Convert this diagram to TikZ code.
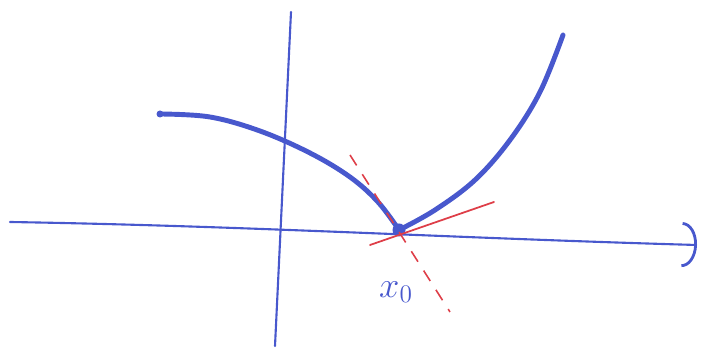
\documentclass[tikz,border=0pt]{standalone}
\usepackage{tikz}
\usetikzlibrary{arrows.meta, positioning, calc}
\definecolor{penblue}{RGB}{72,88,205}
\definecolor{penred}{RGB}{222,62,72}

\begin{document}
\begin{tikzpicture}[
			x=0.02cm, y=-0.02cm,
			axis/.style={draw=penblue, line width=1.2pt, line cap=round},
			graph/.style={draw=penblue, line width=2.8pt, line cap=round, line join=round},
			tangent/.style={draw=penred, line width=1pt, line cap=round},
			guide/.style={draw=penred, line width=0.9pt, dash pattern=on 7pt off 6pt},
			label/.style={text=penblue, font=\huge, inner sep=1pt}
			]
			\useasboundingbox (0,0) rectangle (707,350);
			
			% axes
			\coordinate (xstart) at (10,222);
			\coordinate (xend) at (697,245);
			\coordinate (ytop) at (291,12);
			\coordinate (ybot) at (275,346);
			\draw[axis, -{Arc Barb[length=3mm, width=9mm, line width=1.6pt]}] (xstart) .. controls (250,226) and (450,238) .. (xend);
			\draw[axis] (ytop) -- (ybot);
			
			% the kinked graph
			\coordinate (start) at (160,114);
			\coordinate (kink) at (399,230);
			\coordinate (finish) at (563,35);
			\draw[graph] plot[smooth, tension=0.6] coordinates {(start) (210,117) (260,131) (310,153) (350,177) (378,202) (kink)};
			\draw[graph] plot[smooth, tension=0.6] coordinates {(kink) (435,210) (475,180) (510,140) (540,92) (finish)};
			\fill[penblue] (start) circle (3.5);
			\fill[penblue] (kink) circle (6.5);
			
			% one-sided tangents at the kink
			\coordinate (tleft) at (370,245);
			\coordinate (tright) at (494,202);
			\coordinate (gtop) at (350,155);
			\coordinate (gbot) at (450,312);
			\draw[tangent] (tleft) -- (tright);
			\draw[guide] (gtop) -- (gbot);
			
			\node[label] (xnull) at (396,292) {$x_0$};
		\end{tikzpicture}
\end{document}
